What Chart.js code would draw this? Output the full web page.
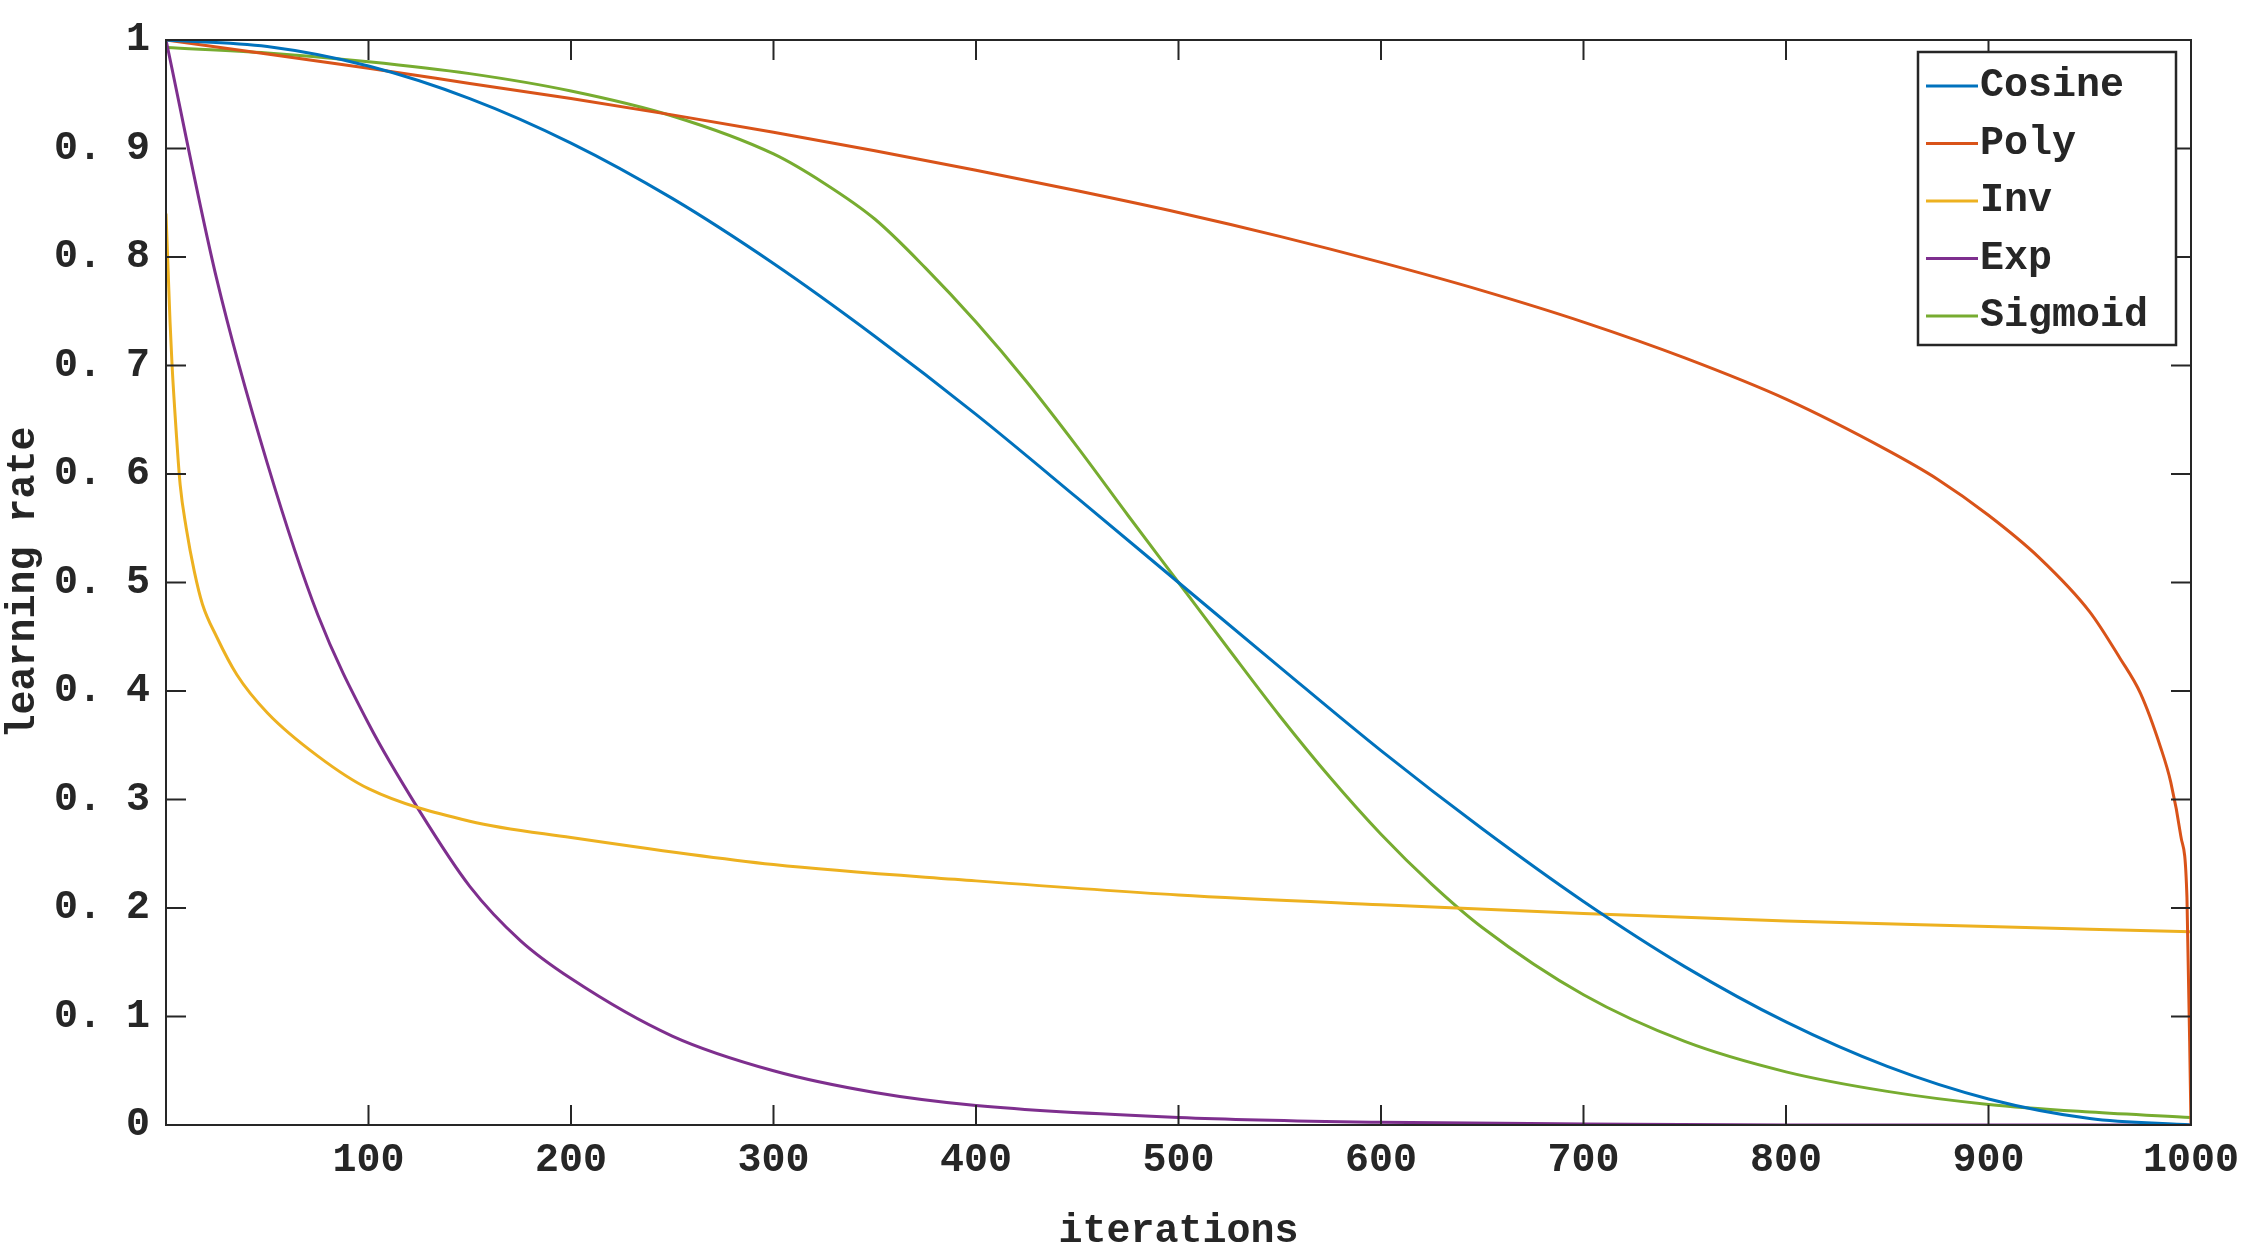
<!DOCTYPE html>
<html><head><meta charset="utf-8">
<script src="https://cdn.jsdelivr.net/npm/chart.js@4/dist/chart.umd.min.js"></script>
<style>html,body{margin:0;padding:0;background:#fff}#wrap{width:2253px;height:1260px}</style>
</head><body><div id="wrap"><canvas id="c"></canvas></div>
<script>
// values
const cosX = [0,50,100,150,200,250,300,350,400,450,500,550,600,650,700,750,800,850,900,950,1000];
const cosY = [1,0.994,0.976,0.946,0.905,0.854,0.794,0.727,0.655,0.578,0.5,0.422,0.345,0.273,0.206,0.146,0.095,0.054,0.024,0.006,0];
const polyX = [0,50,100,150,200,250,300,350,400,450,500,550,600,650,700,750,800,850,875,900,925,950,965,975,985,990,995,998,1000];
const polyY = [1,0.987,0.974,0.960,0.946,0.931,0.915,0.898,0.880,0.861,0.841,0.819,0.795,0.769,0.740,0.707,0.669,0.622,0.595,0.562,0.523,0.473,0.43,0.398,0.348,0.316,0.266,0.21,0];
const invX = [0,1,2,3,5,7,10,14,18,25,35,50,75,100,150,200,300,400,500,600,700,800,900,1000];
const invY = [0.84,0.79,0.74,0.70,0.64,0.59,0.55,0.51,0.48,0.45,0.415,0.38,0.34,0.31,0.28,0.265,0.24,0.225,0.212,0.203,0.195,0.188,0.183,0.178];
const expX = [0,25,50,75,100,125,150,175,200,250,300,350,400,500,600,700,800,1000];
const expY = [1,0.78,0.61,0.47,0.37,0.29,0.22,0.17,0.135,0.082,0.05,0.03,0.018,0.007,0.0025,0.001,0,0];
const sigX = [0,50,100,150,200,250,300,325,350,375,400,425,450,475,500,525,550,575,600,625,650,700,750,800,850,900,950,1000];
const sigY = [0.993,0.988,0.98,0.969,0.953,0.93,0.895,0.868,0.835,0.79,0.74,0.685,0.625,0.562,0.5,0.438,0.377,0.32,0.268,0.222,0.182,0.12,0.077,0.049,0.031,0.019,0.012,0.007];
const names = ['Cosine','Poly','Inv','Exp','Sigmoid'];
const colors = ['#0072BD','#D95319','#EDB120','#7E2F8E','#77AC30'];
const xTicks = [100,200,300,400,500,600,700,800,900,1000];
const yTicks = [0,0.1,0.2,0.3,0.4,0.5,0.6,0.7,0.8,0.9,1];

const FONT = '"Liberation Mono", "DejaVu Sans Mono", monospace';
const pts = (xs, ys) => xs.map((x, i) => ({x: x, y: ys[i]}));
const series = [[cosX,cosY],[polyX,polyY],[invX,invY],[expX,expY],[sigX,sigY]];

const frame = {
  id: 'frame',
  afterDraw(chart) {
    const {ctx, chartArea: a, scales: {x, y}} = chart;
    ctx.save();
    ctx.strokeStyle = '#262626'; ctx.lineWidth = 2;
    ctx.strokeRect(a.left, a.top, a.right - a.left, a.bottom - a.top);
    const t = 20;
    ctx.beginPath();
    xTicks.forEach(v => { const p = x.getPixelForValue(v);
      ctx.moveTo(p, a.bottom); ctx.lineTo(p, a.bottom - t);
      ctx.moveTo(p, a.top); ctx.lineTo(p, a.top + t); });
    yTicks.forEach(v => { const p = y.getPixelForValue(v);
      ctx.moveTo(a.left, p); ctx.lineTo(a.left + t, p);
      ctx.moveTo(a.right, p); ctx.lineTo(a.right - t, p); });
    ctx.stroke();
    // legend box
    const lx = 1918, ly = 52, lw = 258, lh = 293;
    ctx.fillStyle = '#fff'; ctx.fillRect(lx, ly, lw, lh);
    ctx.lineWidth = 2.5; ctx.strokeRect(lx, ly, lw, lh);
    ctx.font = 'bold 40px ' + FONT; ctx.textBaseline = 'middle';
    names.forEach((n, i) => {
      const yy = ly + 34 + i * 57.5;
      ctx.strokeStyle = colors[i]; ctx.lineWidth = 3;
      ctx.beginPath(); ctx.moveTo(lx + 8, yy); ctx.lineTo(lx + 60, yy); ctx.stroke();
      ctx.fillStyle = '#262626'; ctx.fillText(n, lx + 62, yy);
    });
    ctx.restore();
  }
};

new Chart(document.getElementById('c'), {
  type: 'scatter',
  data: { datasets: names.map((n, i) => ({
    label: n, data: pts(series[i][0], series[i][1]), showLine: true,
    borderColor: colors[i], borderWidth: 3, pointRadius: 0, cubicInterpolationMode: 'monotone'
  })) },
  options: {
    responsive: true, maintainAspectRatio: false, animation: false,
    layout: { padding: { top: 40, right: 62, left: 0, bottom: 0 } },
    plugins: { legend: { display: false }, tooltip: { enabled: false } },
    scales: {
      x: { type: 'linear', min: 0, max: 1000,
        afterBuildTicks: s => { s.ticks = xTicks.map(v => ({value: v})); },
        afterFit: s => { s.height = 135; },
        grid: { display: false }, border: { display: false },
        ticks: { color: '#262626', font: { size: 40, family: FONT, weight: 'bold' }, padding: 4, maxRotation: 0,
          callback: v => String(v) },
        title: { display: true, text: 'iterations', color: '#262626', font: { size: 40, family: FONT, weight: 'bold' }, padding: { top: 0 } } },
      y: { min: 0, max: 1,
        afterBuildTicks: s => { s.ticks = yTicks.map(v => ({value: v})); },
        afterFit: s => { s.width = 166; },
        grid: { display: false }, border: { display: false },
        ticks: { color: '#262626', font: { size: 40, family: FONT, weight: 'bold' }, padding: 8,
          callback: v => v === 0 ? '0' : v === 1 ? '1' : '0. ' + Math.round(v * 10) },
        title: { display: true, text: 'learning rate', color: '#262626', font: { size: 40, family: FONT, weight: 'bold' }, padding: 0 } }
    }
  },
  plugins: [frame]
});
</script></body></html>
